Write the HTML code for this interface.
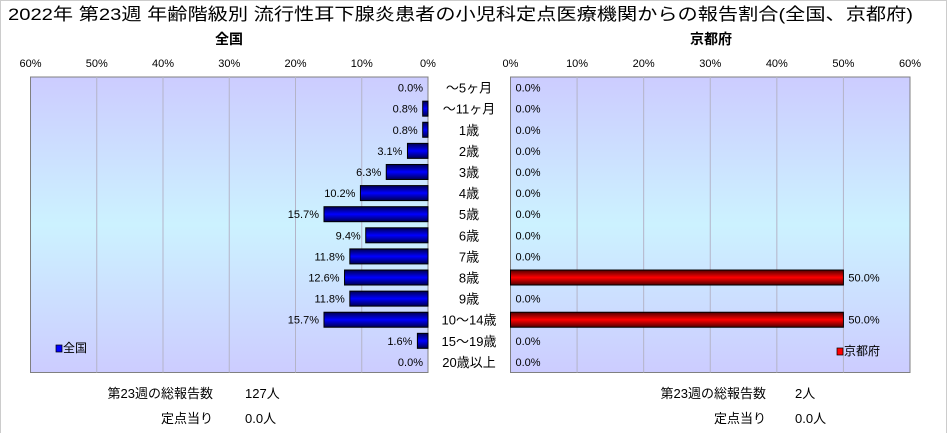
<!DOCTYPE html>
<html><head><meta charset="utf-8">
<style>
body{margin:0;width:949px;height:433px;background:#fff;overflow:hidden;font-family:"Liberation Sans","Noto Sans CJK JP",sans-serif;}
svg text{font-family:"Liberation Sans","Noto Sans CJK JP",sans-serif;}
</style></head><body>
<svg id="chart" width="949" height="433">
<defs>
<linearGradient id="bg" x1="0" y1="0" x2="0" y2="1">
<stop offset="0" stop-color="#ccccff"/><stop offset="0.5" stop-color="#ccf2ff"/><stop offset="1" stop-color="#ccccff"/>
</linearGradient>
<linearGradient id="blue" x1="0" y1="0" x2="0" y2="1">
<stop offset="0" stop-color="#000050"/><stop offset="0.5" stop-color="#0000ff"/><stop offset="1" stop-color="#000050"/>
</linearGradient>
<linearGradient id="red" x1="0" y1="0" x2="0" y2="1">
<stop offset="0" stop-color="#500000"/><stop offset="0.5" stop-color="#ff0000"/><stop offset="1" stop-color="#500000"/>
</linearGradient>
</defs>
<rect x="0.5" y="0.5" width="946" height="440" fill="none" stroke="#ccc"/>
<text x="8" y="20" font-size="17" textLength="905" lengthAdjust="spacingAndGlyphs">2022年 第23週 年齢階級別 流行性耳下腺炎患者の小児科定点医療機関からの報告割合(全国、京都府)</text>
<text x="229" y="44" font-size="14" text-anchor="middle" font-weight="bold">全国</text>
<text x="711" y="44" font-size="14" text-anchor="middle" font-weight="bold">京都府</text>
<g id="g"></g>
<text x="213" y="398" font-size="13" text-anchor="end">第23週の総報告数</text>
<text x="245" y="398" font-size="13">127人</text>
<text x="213" y="423" font-size="13" text-anchor="end">定点当り</text>
<text x="245" y="423" font-size="13">0.0人</text>
<text x="766" y="398" font-size="13" text-anchor="end">第23週の総報告数</text>
<text x="795" y="398" font-size="13">2人</text>
<text x="766" y="423" font-size="13" text-anchor="end">定点当り</text>
<text x="795" y="423" font-size="13">0.0人</text>
</svg>
<script>
const categories=["～5ヶ月","～11ヶ月","1歳","2歳","3歳","4歳","5歳","6歳","7歳","8歳","9歳","10～14歳","15～19歳","20歳以上"];
const nationalValues=[0.0,0.8,0.8,3.1,6.3,10.2,15.7,9.4,11.8,12.6,11.8,15.7,1.6,0.0];
const kyotoValues=[0,0,0,0,0,0,0,0,0,50.0,0,50.0,0,0];
const tickValues=[0,10,20,30,40,50,60];
const NS="http://www.w3.org/2000/svg";
const g=document.getElementById('g');
const plotTop=77,plotBot=372.5,rowH=(plotBot-plotTop)/categories.length,barH=15;
const L={x0:428,x1:30.5},R={x0:510.5,x1:910};
const lx=v=>L.x0-(L.x0-L.x1)*v/60;
const rx=v=>R.x0+(R.x1-R.x0)*v/60;
const rowY=i=>plotTop+rowH*i+rowH/2;
function mk(tag,attrs){const e=document.createElementNS(NS,tag);for(const k in attrs)e.setAttribute(k,attrs[k]);g.appendChild(e);return e;}
let p=mk('rect',{x:L.x1,y:plotTop,width:L.x0-L.x1,height:plotBot-plotTop,fill:'url(#bg)',stroke:'#808080'});


p=mk('rect',{x:R.x0,y:plotTop,width:R.x1-R.x0,height:plotBot-plotTop,fill:'url(#bg)',stroke:'#808080'});


tickValues.forEach(t=>{
  if(t>0&&t<60){
    let a=mk('line',{x1:lx(t),x2:lx(t),y1:plotTop,y2:plotBot,stroke:'#b4b4c8'});
    
    
    a=mk('line',{x1:rx(t),x2:rx(t),y1:plotTop,y2:plotBot,stroke:'#b4b4c8'});
    
    
  }
  let tl=mk('text',{x:lx(t),y:67,'font-size':11,'text-anchor':'middle'});tl.textContent=t+'%';
  
  
  tl=mk('text',{x:rx(t),y:67,'font-size':11,'text-anchor':'middle'});tl.textContent=t+'%';
  
  
});
categories.forEach((c,i)=>{
  const y=rowY(i);
  let t=mk('text',{x:469,y:y+5,'font-size':13,'text-anchor':'middle'});t.textContent=c;
  
  
  const v=nationalValues[i];
  if(v>0){let b=mk('rect',{x:lx(v),y:y-barH/2,width:L.x0-lx(v),height:barH,fill:'url(#blue)',stroke:'#000'});
    
    }
  t=mk('text',{x:lx(v)-5,y:y+4,'font-size':11,'text-anchor':'end'});t.textContent=v.toFixed(1)+'%';
  
  
  const k=kyotoValues[i];
  if(k>0){let b=mk('rect',{x:R.x0,y:y-barH/2,width:rx(k)-R.x0,height:barH,fill:'url(#red)',stroke:'#000'});
    
    }
  t=mk('text',{x:rx(k)+5,y:y+4,'font-size':11});t.textContent=k.toFixed(1)+'%';
  
  
});
let m=mk('rect',{x:56,y:345,width:6,height:7,fill:'#0000ff',stroke:'#000','stroke-width':0.7});


m=mk('text',{x:63,y:352,'font-size':12});m.textContent='全国';


m=mk('rect',{x:837,y:348,width:6,height:7,fill:'#ff0000',stroke:'#000','stroke-width':0.7});


m=mk('text',{x:844,y:355,'font-size':12});m.textContent='京都府';


</script>
</body></html>
